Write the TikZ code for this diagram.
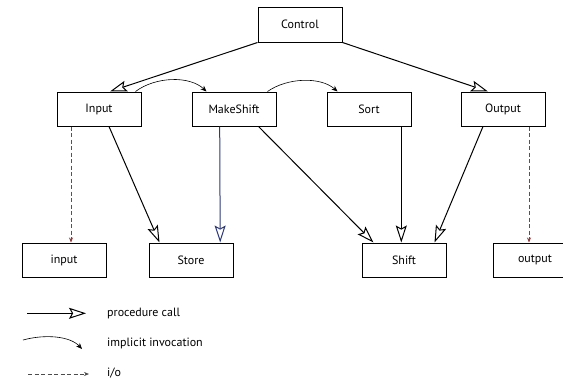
\documentclass[tikz,border=0pt]{standalone}
\usepackage{fontspec}
\setmainfont{PT Sans}
\usetikzlibrary{arrows.meta,calc}
\definecolor{iocol}{HTML}{8E3B3B}
\definecolor{bluish}{HTML}{2E3A78}
\tikzset{
  box/.style={draw=black, line width=1pt, minimum width=84pt, minimum height=34pt,
    inner sep=0pt, fill=white, font=\fontsize{12}{14}\selectfont},
  legtext/.style={anchor=west, inner sep=0pt, font=\fontsize{12}{14}\selectfont},
  callarrow/.style={line width=1pt,
    -{Stealth[open, length=17pt, width=11pt, inset=3pt, line width=1pt, fill=white]}},
  implicit/.style={line width=0.6pt, -{Stealth[length=6pt, width=5pt]}},
  io/.style={iocol, line width=0.7pt, dash pattern=on 4pt off 2.5pt,
    -{Stealth[length=5pt, width=4pt]}}
}
\begin{document}
\begin{tikzpicture}[x=1pt, y=-1pt]
\useasboundingbox (0,0) rectangle (563,381);
\clip (0,0) rectangle (563,381);
% nodes
\node[box, minimum height=35pt] (Control) at (300,24.5) {Control};
\node[box] (Input) at (99,109) {Input};
\node[box] (MakeShift) at (234,109) {MakeShift};
\node[box] (Sort) at (369,109) {Sort};
\node[box] (Output) at (503,109) {Output};
\node[box] (inp) at (64,260) {input};
\node[box] (Store) at (191,260) {Store};
\node[box] (Shift) at (404,260) {Shift};
\node[box] (outp) at (535,260) {output};
% procedure calls
\draw[callarrow] (Control.south west) -- ($(Input.north)+(11,0)$);
\draw[callarrow] (Control.south east) -- ($(Output.north)+(-15,0)$);
\draw[callarrow] ($(Input.south)+(10,0)$) -- ($(Store.north west)+(11,0)$);
\draw[callarrow, bluish] ($(MakeShift.south)+(-14.3,0)$) -- ($(Store.north east)+(-13.3,0)$);
\draw[callarrow] ($(MakeShift.south east)+(-18,0)$) -- ($(Shift.north west)+(12,0)$);
\draw[callarrow] ($(Sort.south)+(32.3,0)$) -- ($(Shift.north)+(-2.7,0)$);
\draw[callarrow] ($(Output.south)+(-20,0)$) -- ($(Shift.north east)+(-12,0)$);
% implicit invocations
\draw[implicit] ($(Input.north east)+(-6,0)$) .. controls +(20,-15) and +(-17,-16) .. ($(MakeShift.north west)+(15,0)$);
\draw[implicit] ($(MakeShift.north east)+(-9,0)$) .. controls +(20,-14) and +(-17,-15) .. ($(Sort.north west)+(11,0)$);
% i/o
\draw[io] ($(Input.south)+(-28,0)$) -- ($(inp.north)+(7,0)$);
\draw[io] ($(Output.south)+(26,0)$) -- ($(outp.north)+(-6,0)$);
% legend
\coordinate (l1a) at (27,313.3); \coordinate (l1b) at (86,313.3);
\coordinate (l2a) at (23,340); \coordinate (l2b) at (82,349);
\coordinate (l3a) at (28,374); \coordinate (l3b) at (89,374);
\draw[callarrow] (l1a) -- (l1b);
\draw[implicit] (l2a) .. controls (45,334) and (70,336) .. (l2b);
\draw[io, black!70] (l3a) -- (l3b);
\node[legtext] (t1) at (107,313) {procedure call};
\node[legtext] (t2) at (107,343) {implicit invocation};
\node[legtext] (t3) at (107,373) {i/o};
\end{tikzpicture}
\end{document}
